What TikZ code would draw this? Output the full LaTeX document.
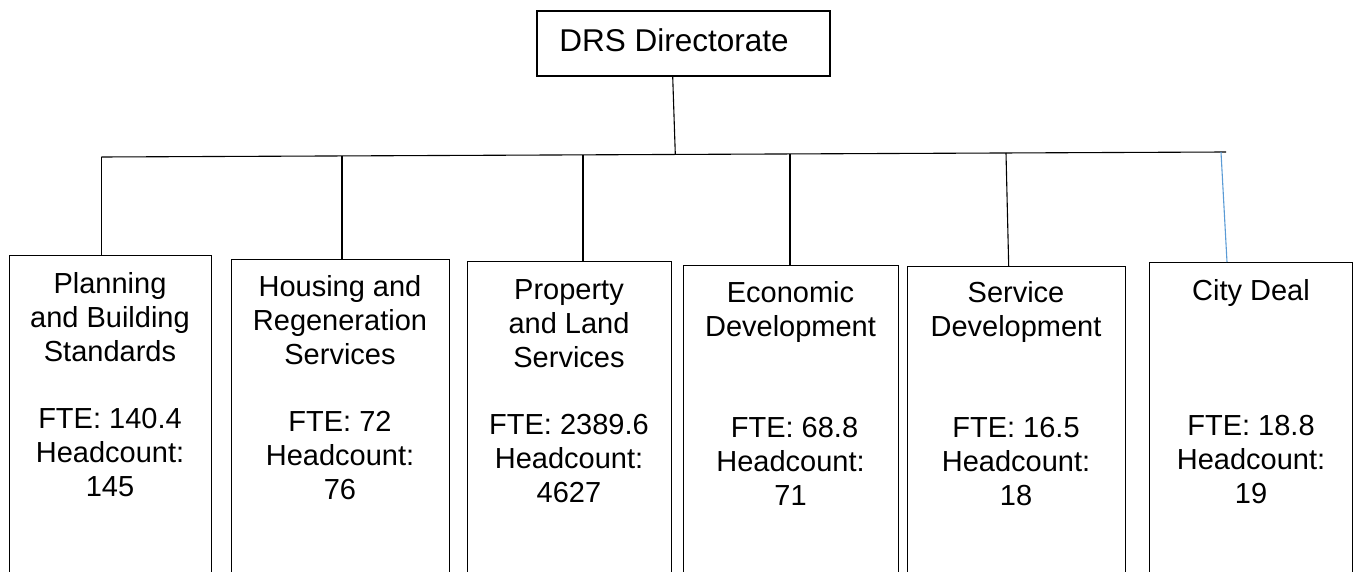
\documentclass[tikz,border=0pt]{standalone}
\usepackage{fontspec}
\setmainfont{Liberation Sans}
\definecolor{linkblue}{HTML}{5B9BD5}
\begin{document}
\begin{tikzpicture}[x=1pt,y=-1pt,
  box/.style={draw=black, line width=1.2pt, anchor=north west, inner sep=0pt, minimum height=360pt},
  topbox/.style={draw=black, line width=1.3pt, inner sep=0pt, minimum width=293pt, minimum height=65pt},
  lbl/.style={font=\fontsize{29}{33.7}\selectfont, align=center, anchor=base, inner sep=0pt},
  conn/.style={draw=black, line width=1.1pt},
  bconn/.style={draw=linkblue, line width=1.1pt}]
\useasboundingbox (0,0) rectangle (1353,572);
\clip (0,0) rectangle (1353,572);

% top box
\node[topbox] (top) at (683.5,43.5) {};
\node[font=\fontsize{31.5}{36}\selectfont, anchor=base, inner sep=0pt] (toptext) at (674,52) {DRS Directorate};

% child boxes
\node[box, minimum width=202pt] (b1) at (9,255) {};
\node[box, minimum width=218pt] (b2) at (231,259) {};
\node[box, minimum width=204pt] (b3) at (467,261) {};
\node[box, minimum width=215pt] (b4) at (683,265) {};
\node[box, minimum width=218pt] (b5) at (907,266) {};
\node[box, minimum width=203pt] (b6) at (1149,262) {};

% texts (anchor base = baseline of last line)
\node[lbl] (t1) at (110,496) {Planning\\and Building\\Standards\\\mbox{}\\FTE: 140.4\\Headcount:\\145};
\node[lbl] (t2) at (340,499) {Housing and\\Regeneration\\Services\\\mbox{}\\FTE: 72\\Headcount:\\76};
\node[lbl] (t3) at (569,502) {Property\\and Land\\Services\\\mbox{}\\FTE: 2389.6\\Headcount:\\4627};
\node[lbl] (t4) at (790.5,505) {Economic\\Development\\\mbox{}\\\mbox{}\\\ FTE: 68.8\\Headcount:\\71};
\node[lbl] (t5) at (1016,505) {Service\\Development\\\mbox{}\\\mbox{}\\FTE: 16.5\\Headcount:\\18};
\node[lbl] (t6) at (1251,503) {City Deal\\\mbox{}\\\mbox{}\\\mbox{}\\FTE: 18.8\\Headcount:\\19};

% bar
\coordinate (bl) at (101.5,157);
\coordinate (br) at (1226,152);
\draw[conn] (bl) -- (br);

% top connector
\coordinate (ta) at ([xshift=-10.8pt]top.south);
\coordinate (tb) at (675.3,154.4);
\draw[conn] (ta) -- (tb);

% junctions on bar
\coordinate (j1) at (101.5,157);
\coordinate (j2) at (342,155.9);
\coordinate (j3) at (583,154.9);
\coordinate (j4) at (790,153.9);
\coordinate (j5) at (1006,153.0);
\coordinate (j6) at (1221,152.1);

\draw[conn] (j1) -- (j1 |- b1.north);
\draw[conn] (j2) -- (j2 |- b2.north);
\draw[conn] (j3) -- (j3 |- b3.north);
\draw[conn] (j4) -- (j4 |- b4.north);
\draw[conn] (j5) -- ([xshift=101.7pt]b5.north west);
\draw[bconn] (j6) -- ([xshift=78pt]b6.north west);
\end{tikzpicture}
\end{document}
